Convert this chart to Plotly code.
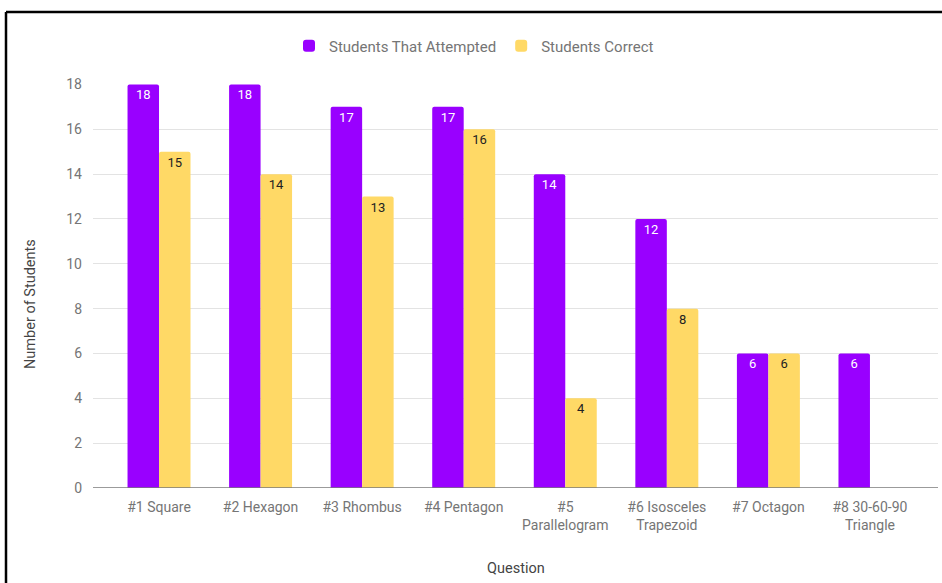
import plotly.graph_objects as go

categories = ["#1 Square", "#2 Hexagon", "#3 Rhombus", "#4 Pentagon",
              "#5<br>Parallelogram", "#6 Isosceles<br>Trapezoid", "#7 Octagon",
              "#8 30-60-90<br>Triangle"]
attempted = [18, 18, 17, 17, 14, 12, 6, 6]
correct = [15, 14, 13, 16, 4, 8, 6, None]
y_ticks = [0, 2, 4, 6, 8, 10, 12, 14, 16, 18]

PURPLE = "#9900FF"
YELLOW = "#FFD966"
FONT = "Roboto"
GRAY = "#757575"

fig = go.Figure()
fig.add_trace(go.Bar(
    x=categories, y=attempted, name="Students That Attempted",
    marker=dict(color=PURPLE, line=dict(width=0)),
    text=[str(v) for v in attempted], textposition="inside",
    insidetextanchor="end", textangle=0,
    textfont=dict(color="white", size=13, family=FONT),
))
fig.add_trace(go.Bar(
    x=categories, y=correct, name="Students Correct",
    marker=dict(color=YELLOW, line=dict(width=0)),
    text=["" if v is None else str(v) for v in correct], textposition="inside",
    insidetextanchor="end", textangle=0,
    textfont=dict(color="#222222", size=13, family=FONT),
))

L, R, T, B = 93, 4, 84, 95
W, H = 942, 583
pw = W - L - R
ph = H - T - B

def px(xp):
    return (xp - L) / pw

def py(yp):
    return (H - B - yp) / ph

fig.update_layout(
    width=W, height=H,
    margin=dict(l=L, r=R, t=T, b=B, pad=0),
    paper_bgcolor="white", plot_bgcolor="white",
    barmode="group", bargap=0.38, bargroupgap=0.0,
    barcornerradius=2,
    uniformtext=dict(minsize=13, mode="show"),
    font=dict(family=FONT, size=14, color=GRAY),
    showlegend=True,
    legend=dict(orientation="h", x=px(474), xanchor="center",
                y=py(46), yanchor="middle",
                font=dict(family=FONT, size=15, color=GRAY),
                itemwidth=30, bgcolor="rgba(0,0,0,0)"),
    xaxis=dict(type="category", range=[-0.65, 7.67], showgrid=False,
               showline=False, ticks="", ticklabelstandoff=9,
               tickfont=dict(size=14, color=GRAY), fixedrange=True),
    yaxis=dict(range=[0, 18.02], tickvals=y_ticks, showgrid=True,
               gridcolor="#e3e3e3", gridwidth=1, zeroline=False,
               showline=False, ticks="", ticklabelstandoff=10,
               tickfont=dict(size=14, color=GRAY), fixedrange=True),
    annotations=[
        dict(text="Question", xref="paper", yref="paper", x=px(516), y=py(568),
             showarrow=False, font=dict(size=14.5, color="#444444", family=FONT),
             xanchor="center", yanchor="middle"),
        dict(text="Number of Students", xref="paper", yref="paper", x=px(30),
             y=py(304), textangle=-90, showarrow=False,
             font=dict(size=14.5, color="#444444", family=FONT),
             xanchor="center", yanchor="middle"),
    ],
    shapes=[
        dict(type="line", xref="paper", yref="y", x0=0, x1=1, y0=0, y1=0,
             line=dict(color="#7a7a7a", width=1.5)),
        dict(type="line", xref="paper", yref="paper", x0=px(6), x1=px(942),
             y0=py(12), y1=py(12), line=dict(color="black", width=2.5)),
        dict(type="line", xref="paper", yref="paper", x0=px(6), x1=px(6),
             y0=py(12), y1=py(583), line=dict(color="black", width=2.5)),
    ],
)

fig.write_html("out.html")
